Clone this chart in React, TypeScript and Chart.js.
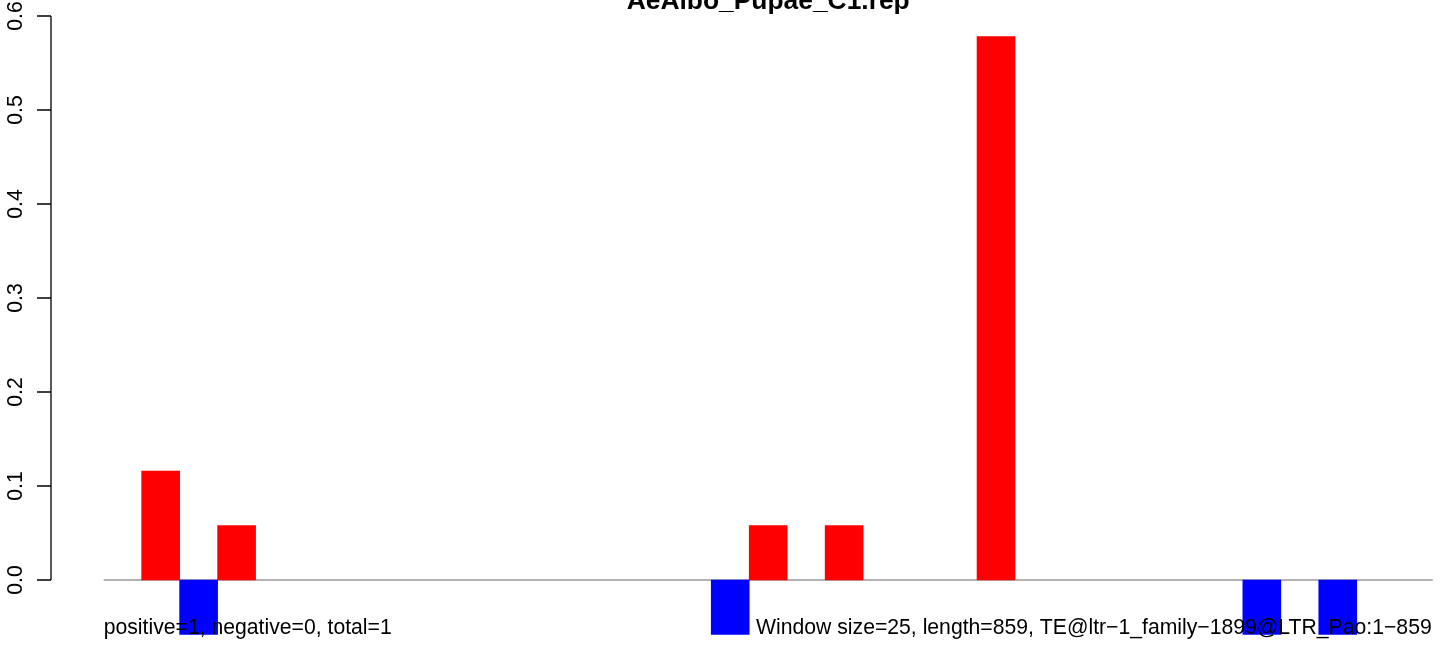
import React, { useEffect, useRef } from "react";
import { Chart, registerables } from "chart.js";

Chart.register(...registerables);

const windows: string[] = Array.from({ length: 35 }, (_, i) => String(i + 1));
const positiveValues: (number | null)[] = [
  null, 0.116, null, 0.058, null, null, null, null, null, null,
  null, null, null, null, null, null, null, 0.058, null, 0.058,
  null, null, null, 0.578, null, null, null, null, null, null,
  null, null, null, null, null,
];
const negativeValues: (number | null)[] = [
  null, null, -0.058, null, null, null, null, null, null, null,
  null, null, null, null, null, null, -0.058, null, null, null,
  null, null, null, null, null, null, null, null, null, null,
  -0.058, null, -0.058, null, null,
];
const yTicks: number[] = [0, 0.1, 0.2, 0.3, 0.4, 0.5, 0.6];
const yTickLabels: string[] = ["0.0", "0.1", "0.2", "0.3", "0.4", "0.5", "0.6"];
const titleText = "AeAlbo_Pupae_C1.rep";
const leftNote = "positive=1, negative=0, total=1";
const rightNote = "Window size=25, length=859, TE@ltr\u22121_family\u22121899@LTR_Pao:1\u2212859";

const FONT = "'Liberation Sans', Arial, Helvetica, sans-serif";

const rPlot = {
  id: "rPlot",
  beforeDatasetsDraw(chart: any) {
    const { ctx } = chart;
    const x = chart.scales.x;
    const y = chart.scales.y;
    const y0 = y.getPixelForValue(0);
    ctx.save();
    // baseline
    ctx.strokeStyle = "#9a9a9a";
    ctx.lineWidth = 1.5;
    ctx.beginPath();
    ctx.moveTo(x.left, y0);
    ctx.lineTo(x.right, y0);
    ctx.stroke();
    ctx.restore();
  },
  afterDatasetsDraw(chart: any) {
    const { ctx } = chart;
    const x = chart.scales.x;
    const y = chart.scales.y;
    ctx.save();
    // y axis
    const axisX = 51;
    const tickLen = 14;
    const yTop = y.getPixelForValue(yTicks[yTicks.length - 1]);
    const yBot = y.getPixelForValue(yTicks[0]);
    ctx.strokeStyle = "#000";
    ctx.lineWidth = 1.3;
    ctx.beginPath();
    ctx.moveTo(axisX, yTop);
    ctx.lineTo(axisX, yBot);
    yTicks.forEach((t) => {
      const py = y.getPixelForValue(t);
      ctx.moveTo(axisX - tickLen, py);
      ctx.lineTo(axisX, py);
    });
    ctx.stroke();
    ctx.fillStyle = "#000";
    ctx.font = `21.2px ${FONT}`;
    ctx.textAlign = "center";
    ctx.textBaseline = "alphabetic";
    yTicks.forEach((t, i) => {
      const py = y.getPixelForValue(t);
      ctx.save();
      ctx.translate(22, py);
      ctx.rotate(-Math.PI / 2);
      ctx.fillText(yTickLabels[i], 0, 0);
      ctx.restore();
    });
    // title
    ctx.font = `bold 26.4px ${FONT}`;
    ctx.textAlign = "center";
    ctx.fillText(titleText, (x.left + x.right) / 2, 9);
    // bottom notes
    ctx.font = `21.2px ${FONT}`;
    ctx.textAlign = "left";
    ctx.fillText(leftNote, x.left, 634);
    ctx.textAlign = "right";
    ctx.fillText(rightNote, x.right - 1, 634);
    ctx.restore();
  },
};

export default function App() {
  const canvasRef = useRef<HTMLCanvasElement>(null);
  useEffect(() => {
    if (!canvasRef.current) return;
    const unit = 940;
    const chart = new Chart(canvasRef.current, {
      type: "bar",
      data: {
        labels: windows,
        datasets: [
          {
            label: "positive",
            data: positiveValues,
            backgroundColor: "#ff0000",
            borderWidth: 0,
            barPercentage: 1,
            categoryPercentage: 1,
            grouped: false,
          } as any,
          {
            label: "negative",
            data: negativeValues,
            backgroundColor: "#0000ff",
            borderWidth: 0,
            barPercentage: 1,
            categoryPercentage: 1,
            grouped: false,
          } as any,
        ],
      },
      options: {
        responsive: false,
        animation: false,
        layout: { padding: { left: 103.7, right: 11.3, top: 0, bottom: 0 } },
        plugins: { legend: { display: false }, tooltip: { enabled: false }, title: { display: false } },
        scales: {
          x: { display: false, offset: true, grid: { display: false } },
          y: {
            display: false,
            min: -66 / unit,
            max: 0.6 + 16 / unit,
            grid: { display: false },
          },
        },
      },
      plugins: [rPlot],
    });
    return () => chart.destroy();
  }, []);
  return (
    <canvas
      ref={canvasRef}
      width={1444}
      height={646}
      style={{ position: "fixed", left: 0, top: 0, width: 1444, height: 646, display: "block", background: "#fff" }}
    />
  );
}
